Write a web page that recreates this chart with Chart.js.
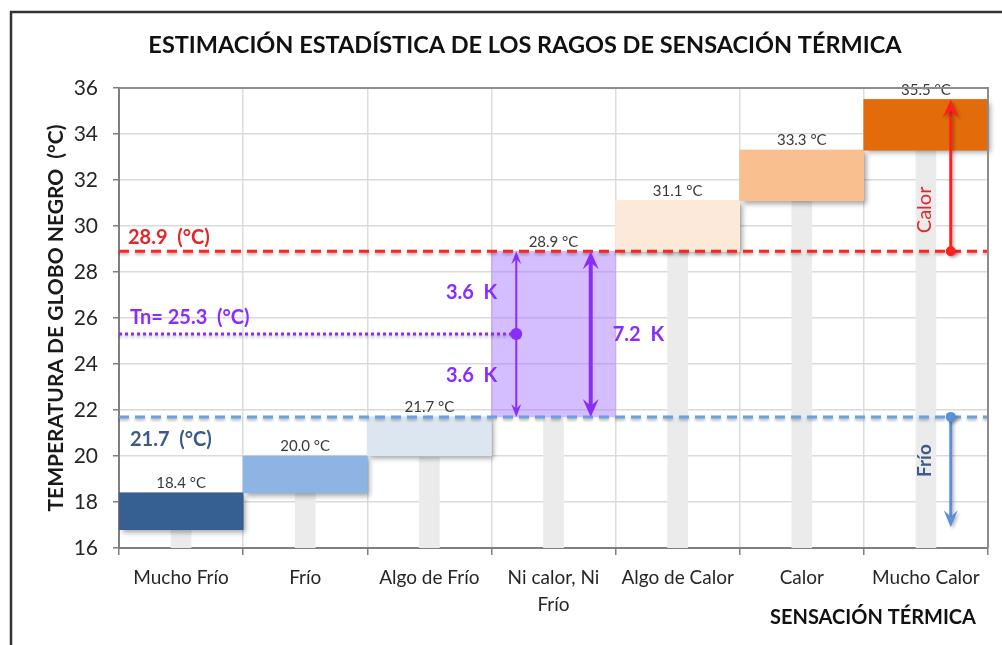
<!DOCTYPE html>
<html lang="es">
<head>
<meta charset="utf-8">
<title>Estimación estadística de los rangos de sensación térmica</title>
<script src="https://cdn.jsdelivr.net/npm/chart.js@4.4.1/dist/chart.umd.min.js"></script>
<style>
  html, body { margin: 0; padding: 0; background: #ffffff; }
  canvas { display: block; }
</style>
</head>
<body>
<canvas id="chart" width="1002" height="645"></canvas>
<script>
// Thermal sensation categories (x axis)
const categories = ['Mucho Frío', 'Frío', 'Algo de Frío', ['Ni calor, Ni', 'Frío'], 'Algo de Calor', 'Calor', 'Mucho Calor'];
// Lower and upper black-globe temperature of each range (°C)
const rangeLow  = [16.8, 18.4, 20.0, 21.7, 28.9, 31.1, 33.3];
const rangeHigh = [18.4, 20.0, 21.7, 28.9, 31.1, 33.3, 35.5];
// Fill colour of each range
const rangeColors = ['#366092', '#8db4e2', '#dce6f1', 'rgba(160,110,255,0.45)', '#fde9d9', '#fabf8f', '#e26b0a'];
// Y axis
const yMin = 16;
const yMax = 36;
const yStep = 1;
const yLabelStep = 2;
// Comfort limits and neutral temperature (°C)
const upperLimit = 28.9;
const neutralTemp = 25.3;
const lowerLimit = 21.7;
// Band widths (K)
const halfBand = 3.6;
const fullBand = 7.2;
// End of the "Frío" arrow (°C)
const coldArrowEnd = 16.9;

const chartTitle = 'ESTIMACIÓN ESTADÍSTICA DE LOS RAGOS DE SENSACIÓN TÉRMICA';
const yTitle = 'TEMPERATURA DE GLOBO NEGRO  (°C)';
const xTitle = 'SENSACIÓN TÉRMICA';

const FONT = 'Lato, "Open Sans", "DejaVu Sans", sans-serif';

const floatingRanges = rangeLow.map((lo, i) => [lo, rangeHigh[i]]);
const baseColumns = rangeLow.map(lo => [yMin, lo]);

function stealthHead(ctx, tipX, tipY, dirY, len, half) {
  // dirY: +1 arrow pointing down, -1 pointing up
  ctx.beginPath();
  ctx.moveTo(tipX, tipY);
  ctx.lineTo(tipX - half, tipY - dirY * len);
  ctx.lineTo(tipX, tipY - dirY * len * 0.62);
  ctx.lineTo(tipX + half, tipY - dirY * len);
  ctx.closePath();
  ctx.fill();
}

function dot(ctx, x, y, r) {
  ctx.beginPath();
  ctx.arc(x, y, r, 0, Math.PI * 2);
  ctx.fill();
}

const decorations = {
  id: 'decorations',
  beforeDraw(chart) {
    const ctx = chart.ctx;
    ctx.save();
    ctx.fillStyle = '#ffffff';
    ctx.fillRect(0, 0, chart.width, chart.height);
    ctx.restore();
  },
  beforeDatasetDraw(chart, args) {
    if (args.index !== 0) return;
    // soft drop shadow under the opaque range bars
    const ctx = chart.ctx;
    const meta = chart.getDatasetMeta(0);
    ctx.save();
    meta.data.forEach((bar, i) => {
      if (i === 3) return;
      const p = bar.getProps(['x', 'y', 'base', 'width'], true);
      ctx.shadowColor = 'rgba(0,0,0,0.35)';
      ctx.shadowBlur = 5;
      ctx.shadowOffsetX = 3;
      ctx.shadowOffsetY = 3;
      ctx.fillStyle = rangeColors[i];
      ctx.fillRect(p.x - p.width / 2, Math.min(p.y, p.base), p.width, Math.abs(p.base - p.y));
    });
    ctx.restore();
  },
  afterDatasetsDraw(chart) {
    const ctx = chart.ctx;
    const xs = chart.scales.x;
    const ys = chart.scales.y;
    const area = chart.chartArea;
    const catW = xs.getPixelForValue(1) - xs.getPixelForValue(0);

    // value labels above each range
    const meta = chart.getDatasetMeta(0);
    ctx.save();
    ctx.font = '15px ' + FONT;
    ctx.fillStyle = '#3a3a3a';
    ctx.textAlign = 'center';
    ctx.textBaseline = 'bottom';
    meta.data.forEach((bar, i) => {
      ctx.fillText(rangeHigh[i].toFixed(1) + ' °C', bar.x, ys.getPixelForValue(rangeHigh[i]) - 2);
    });
    ctx.restore();

    const yUp = ys.getPixelForValue(upperLimit);
    const yNeu = ys.getPixelForValue(neutralTemp);
    const yLow = ys.getPixelForValue(lowerLimit);
    const xNeutral = xs.getPixelForValue(3);
    const xThin = xNeutral - catW * 0.3;
    const xThick = xNeutral + catW * 0.3;
    const xSide = xs.getPixelForValue(6) + catW * 0.2;

    // horizontal limit lines
    ctx.save();
    ctx.shadowColor = 'rgba(0,0,0,0.3)';
    ctx.shadowBlur = 3;
    ctx.shadowOffsetY = 2;
    ctx.lineWidth = 3;
    ctx.setLineDash([10, 6]);
    ctx.strokeStyle = '#6c9ee2';
    ctx.beginPath(); ctx.moveTo(area.left, yLow); ctx.lineTo(area.right, yLow); ctx.stroke();
    ctx.strokeStyle = '#ff2222';
    ctx.beginPath(); ctx.moveTo(area.left, yUp); ctx.lineTo(area.right, yUp); ctx.stroke();
    ctx.setLineDash([3, 3]);
    ctx.strokeStyle = '#8a2cff';
    ctx.beginPath(); ctx.moveTo(area.left, yNeu); ctx.lineTo(xThin, yNeu); ctx.stroke();
    ctx.restore();

    // line labels
    ctx.save();
    ctx.font = 'bold 20px ' + FONT;
    ctx.textAlign = 'left';
    ctx.textBaseline = 'middle';
    ctx.fillStyle = '#e3262b';
    ctx.fillText(upperLimit.toFixed(1) + '  (°C)', area.left + 9, ys.getPixelForValue(upperLimit + 0.6));
    ctx.fillStyle = '#8a2cff';
    ctx.fillText('Tn= ' + neutralTemp.toFixed(1) + '  (°C)', area.left + 11, ys.getPixelForValue(neutralTemp + 0.7));
    ctx.fillStyle = '#3d5b86';
    ctx.fillText(lowerLimit.toFixed(1) + '  (°C)', area.left + 11, ys.getPixelForValue(lowerLimit - 1.0));
    ctx.restore();

    // thin double arrow: neutral ± half band
    ctx.save();
    ctx.strokeStyle = '#8a2cff';
    ctx.fillStyle = '#8a2cff';
    ctx.lineWidth = 2;
    ctx.beginPath(); ctx.moveTo(xThin, yUp + 6); ctx.lineTo(xThin, yLow - 6); ctx.stroke();
    stealthHead(ctx, xThin, yUp, -1, 13, 5);
    stealthHead(ctx, xThin, yLow, 1, 13, 5);
    dot(ctx, xThin, yNeu, 6);
    // thick double arrow: full band
    ctx.lineWidth = 4;
    ctx.beginPath(); ctx.moveTo(xThick, yUp + 8); ctx.lineTo(xThick, yLow - 8); ctx.stroke();
    stealthHead(ctx, xThick, yUp, -1, 18, 8);
    stealthHead(ctx, xThick, yLow, 1, 18, 8);
    ctx.font = 'bold 20px ' + FONT;
    ctx.textBaseline = 'middle';
    ctx.textAlign = 'right';
    ctx.fillText(halfBand.toFixed(1) + '  K', xThin - 19, ys.getPixelForValue(neutralTemp + halfBand / 2));
    ctx.fillText(halfBand.toFixed(1) + '  K', xThin - 19, ys.getPixelForValue(neutralTemp - halfBand / 2));
    ctx.textAlign = 'left';
    ctx.fillText(fullBand.toFixed(1) + '  K', xThick + 22, yNeu);
    ctx.restore();

    // "Calor" arrow
    ctx.save();
    ctx.shadowColor = 'rgba(0,0,0,0.25)';
    ctx.shadowBlur = 3;
    ctx.shadowOffsetX = 2;
    ctx.shadowOffsetY = 2;
    const yHot = ys.getPixelForValue(rangeHigh[6]);
    ctx.strokeStyle = '#ff1f1f';
    ctx.fillStyle = '#ff1f1f';
    ctx.lineWidth = 3;
    ctx.beginPath(); ctx.moveTo(xSide, yUp); ctx.lineTo(xSide, yHot + 10); ctx.stroke();
    stealthHead(ctx, xSide, yHot, -1, 18, 8);
    dot(ctx, xSide, yUp, 5);
    // "Frío" arrow
    const yCold = ys.getPixelForValue(coldArrowEnd);
    ctx.strokeStyle = '#5b8fd9';
    ctx.fillStyle = '#5b8fd9';
    ctx.beginPath(); ctx.moveTo(xSide, yLow); ctx.lineTo(xSide, yCold - 10); ctx.stroke();
    stealthHead(ctx, xSide, yCold, 1, 17, 7);
    dot(ctx, xSide, yLow, 5);
    ctx.restore();

    ctx.save();
    ctx.textAlign = 'center';
    ctx.textBaseline = 'middle';
    ctx.translate(xs.getPixelForValue(6) - 1, ys.getPixelForValue(30.7));
    ctx.rotate(-Math.PI / 2);
    ctx.font = '20px ' + FONT;
    ctx.fillStyle = '#e3262b';
    ctx.fillText('Calor', 0, 0);
    ctx.restore();
    ctx.save();
    ctx.textAlign = 'center';
    ctx.textBaseline = 'middle';
    ctx.translate(xs.getPixelForValue(6) - 1, ys.getPixelForValue(19.8));
    ctx.rotate(-Math.PI / 2);
    ctx.font = 'bold 19px ' + FONT;
    ctx.fillStyle = '#3d5b86';
    ctx.fillText('Frío', 0, 0);
    ctx.restore();

    // plot frame (top and right)
    ctx.save();
    ctx.strokeStyle = '#8c8c8c';
    ctx.lineWidth = 2;
    ctx.beginPath();
    ctx.moveTo(area.left, area.top);
    ctx.lineTo(area.right, area.top);
    ctx.lineTo(area.right, area.bottom);
    ctx.stroke();
    ctx.restore();
  },
  afterDraw(chart) {
    const ctx = chart.ctx;
    ctx.save();
    ctx.fillStyle = '#111111';
    ctx.textAlign = 'center';
    ctx.textBaseline = 'middle';
    ctx.font = 'bold 23.5px ' + FONT;
    ctx.fillText(chartTitle, 525, 45);
    ctx.font = 'bold 20px ' + FONT;
    ctx.fillText(xTitle, 873, 618);
    // outer frame
    ctx.strokeStyle = '#333333';
    ctx.lineWidth = 2.5;
    ctx.beginPath();
    ctx.moveTo(11, chart.height);
    ctx.lineTo(11, 12);
    ctx.lineTo(chart.width, 12);
    ctx.stroke();
    ctx.restore();
  }
};

new Chart(document.getElementById('chart'), {
  type: 'bar',
  data: {
    labels: categories,
    datasets: [
      {
        data: floatingRanges,
        backgroundColor: rangeColors,
        borderWidth: 0,
        barPercentage: 1,
        categoryPercentage: 1,
        grouped: false
      },
      {
        data: baseColumns,
        backgroundColor: '#ebebeb',
        borderWidth: 0,
        barThickness: 20,
        grouped: false
      }
    ]
  },
  options: {
    responsive: false,
    animation: false,
    layout: { padding: { left: 44, top: 88, right: 14, bottom: 0 } },
    plugins: {
      legend: { display: false },
      tooltip: { enabled: false },
      title: { display: false }
    },
    scales: {
      x: {
        afterFit(scale) { scale.height = 97; },
        grid: {
          offset: true,
          color: '#dcdcdc',
          tickColor: '#7f7f7f',
          tickLength: 7,
          lineWidth: 1.5
        },
        border: { color: '#7f7f7f', width: 2 },
        ticks: {
          font: { family: FONT, size: 19, lineHeight: 1.45 },
          color: '#262626',
          padding: 9,
          maxRotation: 0,
          autoSkip: false
        }
      },
      y: {
        min: yMin,
        max: yMax,
        afterFit(scale) { scale.width = 75; },
        grid: {
          color: ctx => (ctx.tick && ctx.tick.value % yLabelStep === 0) ? '#dadada' : '#f0f0f0',
          tickColor: ctx => (ctx.tick && ctx.tick.value % yLabelStep === 0) ? '#7f7f7f' : 'rgba(0,0,0,0)',
          tickLength: 6,
          lineWidth: 1.5
        },
        border: { color: '#7f7f7f', width: 2 },
        ticks: {
          stepSize: yStep,
          font: { family: FONT, size: 21 },
          color: '#262626',
          padding: 15,
          callback: v => (v % yLabelStep === 0 ? v : '')
        },
        title: {
          display: true,
          text: yTitle,
          font: { family: FONT, size: 21, weight: 'bold' },
          color: '#1a1a1a',
          padding: { top: 0, bottom: 0 }
        }
      }
    }
  },
  plugins: [decorations]
});
</script>
</body>
</html>
